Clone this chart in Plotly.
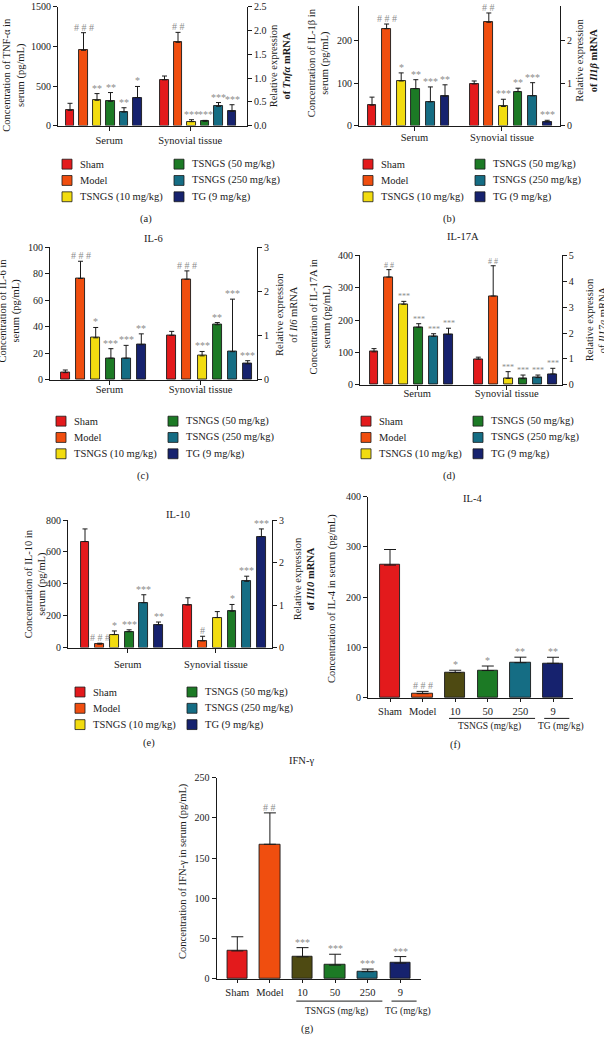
import plotly.graph_objects as go

W, H = 604, 1041
FONT = "Liberation Serif"
INK = "#1a1a1a"
SIG_COLOR = "#8c8c8c"

# ---------------- data ----------------
groups = ["Sham", "Model", "TSNGS (10 mg/kg)", "TSNGS (50 mg/kg)", "TSNGS (250 mg/kg)", "TG (9 mg/kg)"]
colors = ["#e31a1c", "#f04e0f", "#f2dc10", "#1c7a25", "#156d84", "#16226e"]
colors_single = ["#e31a1c", "#f04e0f", "#4e4a12", "#1c7a25", "#156d84", "#16226e"]
tissues = ["Serum", "Synovial tissue"]
single_ticks = ["Sham", "Model", "10", "50", "250", "9"]
bracket_labels = ["TSNGS (mg/kg)", "TG (mg/kg)"]

# (a) TNF-alpha
tnf_serum = [192, 952, 320, 307, 171, 354]
tnf_serum_err = [90, 223, 85, 111, 55, 141]
tnf_serum_sig = ["", "###", "**", "**", "**", "*"]
tnf_syn = [0.965, 1.755, 0.084, 0.09, 0.406, 0.30]
tnf_syn_err = [0.08, 0.21, 0.04, 0.02, 0.08, 0.14]
tnf_syn_sig = ["", "##", "***", "***", "***", "***"]

# (b) IL-1beta
il1b_serum = [48, 228, 105, 87, 56, 69]
il1b_serum_err = [19, 11, 19, 21, 35, 27]
il1b_serum_sig = ["", "###", "*", "**", "***", "**"]
il1b_syn = [0.98, 2.43, 0.45, 0.80, 0.70, 0.085]
il1b_syn_err = [0.07, 0.22, 0.17, 0.08, 0.31, 0.04]
il1b_syn_sig = ["", "##", "***", "**", "***", "***"]

# (c) IL-6
il6_serum = [5.5, 76.6, 31.8, 16.4, 16.4, 26.6]
il6_serum_err = [2, 13, 7.8, 7.2, 9.7, 8.2]
il6_serum_sig = ["", "###", "*", "***", "***", "**"]
il6_syn = [1.01, 2.28, 0.545, 1.25, 0.64, 0.366]
il6_syn_err = [0.09, 0.19, 0.10, 0.05, 1.19, 0.07]
il6_syn_sig = ["", "###", "***", "**", "***", "***"]

# (d) IL-17A
il17_serum = [102, 333, 249, 178, 150, 156]
il17_serum_err = [10, 23, 9, 11, 8, 19]
il17_serum_sig = ["", "##", "***", "***", "***", "***"]
il17_syn = [0.99, 3.43, 0.25, 0.24, 0.28, 0.42]
il17_syn_err = [0.08, 1.17, 0.26, 0.14, 0.10, 0.22]
il17_syn_sig = ["", "##", "***", "***", "***", "***"]

# (e) IL-10
il10_serum = [665, 21, 81, 99, 281, 143]
il10_serum_err = [79, 6, 23, 12, 50, 17]
il10_serum_sig = ["", "###", "*", "***", "***", "**"]
il10_syn = [1.0, 0.155, 0.705, 0.853, 1.558, 2.61]
il10_syn_err = [0.17, 0.11, 0.14, 0.16, 0.12, 0.18]
il10_syn_sig = ["", "#", "", "*", "***", "***"]

# (f) IL-4
il4 = [264, 8.5, 50.4, 54.4, 70, 68.8]
il4_err = [31, 4.5, 4.6, 9, 11, 12]
il4_sig = ["", "###", "*", "*", "**", "**"]

# (g) IFN-gamma
ifng = [34.8, 167.3, 27.4, 17.2, 9, 19.6]
ifng_err = [17.6, 39, 11.5, 13.5, 3.3, 8.2]
ifng_sig = ["", "##", "***", "***", "***", "***"]

# ---------------- helpers ----------------
fig = go.Figure()
layout = {}
annotations = []
shapes = []


def fx(px):
    return px / W


def fy(py):
    return 1 - py / H


def ref(prefix, n):
    return prefix + ("" if n == 1 else str(n))


def key(prefix, n):
    return prefix + "axis" + ("" if n == 1 else str(n))


def spaced(s):
    return " ".join(s) if "#" in s else s


def axis_style(size=10):
    return dict(showline=True, linecolor=INK, linewidth=1, ticks="outside", ticklen=4,
                tickwidth=1, tickcolor=INK, showgrid=False, zeroline=False,
                tickfont=dict(family=FONT, size=size, color=INK), fixedrange=True)


def text(x, y, s, size=10.5, angle=0, xanchor="center", color=INK, xref="paper", yref="paper"):
    annotations.append(dict(x=x, y=y, xref=xref, yref=yref, text=s, showarrow=False,
                            xanchor=xanchor, yanchor="middle", textangle=angle,
                            font=dict(family=FONT, size=size, color=color)))


def add_bars(xa, ya, xs, vals, errs, sigs, cols, width, capw, sigsize):
    fig.add_trace(go.Bar(
        x=xs, y=vals, width=width, xaxis=xa, yaxis=ya,
        marker=dict(color=cols, line=dict(color=INK, width=0.9)),
        error_y=dict(type="data", symmetric=False, array=errs, arrayminus=[0] * len(vals),
                     color=INK, thickness=1, width=capw),
        showlegend=False, hoverinfo="skip"))
    for x, v, e, s in zip(xs, vals, errs, sigs):
        if s:
            annotations.append(dict(x=x, y=v + e, xref=xa, yref=ya, text=spaced(s),
                                    showarrow=False, yanchor="bottom", yshift=-2,
                                    font=dict(family=FONT, size=sigsize, color=SIG_COLOR)))


def legend_block(x, y):
    for i, (g, c) in enumerate(zip(groups, colors)):
        col, row = divmod(i, 3)
        sx = x + col * 112
        sy = y + row * 16.5
        shapes.append(dict(type="rect", xref="paper", yref="paper",
                           x0=fx(sx), x1=fx(sx + 10), y0=fy(sy + 5), y1=fy(sy - 5),
                           fillcolor=c, line=dict(color=INK, width=0.8)))
        text(fx(sx + 16), fy(sy), g, size=10.5, xanchor="left")


n = len(groups)
serum_x = list(range(n))
syn_x = [n + 1 + i for i in range(n)]
group_ticks = [2.9, 8.9]


def twin_panel(ix, iyl, iyr, box, yl_range, yl_dtick, yr_range, yr_dtick, yr_fmt,
               serum, syn, sigsize, standoff, capw=2.5, width=0.6):
    xl, xr, yt, yb, x0, dx = box
    xa, yla, yra = ref("x", ix), ref("y", iyl), ref("y", iyr)
    xs = axis_style(10.5)
    xs.update(domain=[fx(xl), fx(xr)], range=[(xl - x0) / dx, (xr - x0) / dx], anchor=yla,
              tickvals=group_ticks, ticktext=tissues, ticklabelstandoff=standoff)
    layout[key("x", ix)] = xs
    yl = axis_style()
    yl.update(domain=[fy(yb), fy(yt)], range=yl_range, dtick=yl_dtick, anchor=xa)
    layout[key("y", iyl)] = yl
    yr = axis_style()
    yr.update(overlaying=yla, side="right", anchor=xa, range=yr_range, dtick=yr_dtick,
              tickformat=yr_fmt)
    layout[key("y", iyr)] = yr
    add_bars(xa, yla, serum_x, *serum, colors, width, capw, sigsize)
    add_bars(xa, yra, syn_x, *syn, colors, width, capw, sigsize)


def single_panel(ix, iy, box, y_range, y_dtick, vals, errs, sigs, under_off, sub_off):
    xl, xr, yt, yb, x0, dx = box
    xa, ya = ref("x", ix), ref("y", iy)
    xs = axis_style(10.5)
    xs.update(domain=[fx(xl), fx(xr)], range=[(xl - x0) / dx, (xr - x0) / dx], anchor=ya,
              tickvals=list(range(n)), ticktext=single_ticks, ticklen=3, ticklabelstandoff=0)
    layout[key("x", ix)] = xs
    yl = axis_style()
    yl.update(domain=[fy(yb), fy(yt)], range=y_range, dtick=y_dtick, anchor=xa)
    layout[key("y", iy)] = yl
    add_bars(xa, ya, list(range(n)), vals, errs, sigs, colors_single, 0.62, 6, 10)
    # group brackets under the tick labels
    for (a, b) in [(2 - 0.19, 4 + 0.45), (5 - 0.27, 5 + 0.5)]:
        shapes.append(dict(type="line", xref=xa, yref="paper", x0=a, x1=b,
                           y0=fy(yb + under_off), y1=fy(yb + under_off),
                           line=dict(color=INK, width=1)))
    for lab, xc in zip(bracket_labels, [3.05, 5.25]):
        text(xc, fy(yb + sub_off), lab, size=9.5, xref=xa)


# ---------------- panels ----------------
# (a) TNF-alpha
twin_panel(1, 1, 2, (58, 247, 1, 121, 70, 13.5), [0, 1500], 500, [0, 2.5], 0.5, ".1f",
           (tnf_serum, tnf_serum_err, tnf_serum_sig), (tnf_syn, tnf_syn_err, tnf_syn_sig), 10, 1)
text(fx(14.5), fy(70), "Concentration of TNF-α in<br>serum (pg/mL)", angle=-90)
text(fx(280), fy(61), "Relative expression<br><b>of <i>Tnfα</i> mRNA</b>", angle=-90)
legend_block(62, 160)
text(fx(146), fy(215), "(a)")

# (b) IL-1beta
twin_panel(2, 3, 4, (359, 560, 0, 121, 372, 14.6), [0, 281.4], 100, [0, 2.814], 1, "d",
           (il1b_serum, il1b_serum_err, il1b_serum_sig), (il1b_syn, il1b_syn_err, il1b_syn_sig), 10, -2)
text(fx(319), fy(58), "Concentration of IL-1β in<br>serum (pg/mL)", angle=-90)
text(fx(586.5), fy(55), "Relative expression<br><b>of <i>Il1β</i> mRNA</b>", angle=-90)
legend_block(363, 160)
text(fx(449), fy(215), "(b)")

# (c) IL-6
twin_panel(3, 5, 6, (50, 257, 244.3, 378.3, 65.3, 15.2), [0, 100], 20, [0, 3], 1, "d",
           (il6_serum, il6_serum_err, il6_serum_sig), (il6_syn, il6_syn_err, il6_syn_sig), 10, -5)
text(fx(153), fy(235), "IL-6")
text(fx(10), fy(308), "Concentration of IL-6 in<br>serum (pg/mL)", angle=-90)
text(fx(286.5), fy(312), "Relative expression<br>of <i>Il6</i> mRNA", angle=-90)
legend_block(56, 420)
text(fx(143), fy(475), "(c)")

# (d) IL-17A
twin_panel(4, 7, 8, (360, 561.7, 252.3, 383.3, 374, 14.9), [0, 400], 100, [0, 5], 1, "d",
           (il17_serum, il17_serum_err, il17_serum_sig), (il17_syn, il17_syn_err, il17_syn_sig), 8, -5)
text(fx(463), fy(233), "IL-17A")
text(fx(321), fy(314), "Concentration of IL-17A in<br>serum (pg/mL)", angle=-90)
text(fx(596), fy(318), "Relative expression<br>of <i>Il17a</i> mRNA", angle=-90)
legend_block(361, 420)
text(fx(449), fy(475), "(d)")

# (e) IL-10
twin_panel(5, 9, 10, (68, 272, 520, 649, 85, 14.7), [0, 800], 200, [0, 3], 1, "d",
           (il10_serum, il10_serum_err, il10_serum_sig), (il10_syn, il10_syn_err, il10_syn_sig), 10, 3)
text(fx(178), fy(514), "IL-10")
text(fx(36), fy(585), "Concentration of IL-10 in<br>serum (pg/mL)", angle=-90)
text(fx(304), fy(580), "Relative expression<br><b>of <i>Il10</i> mRNA</b>", angle=-90)
legend_block(75, 694)
text(fx(149), fy(746), "(e)")

# (f) IL-4
single_panel(6, 11, (368, 573, 496.4, 700, 390, 32.6), [0, 400], 100,
             il4, il4_err, il4_sig, 20.7, 29)
text(fx(473), fy(498), "IL-4")
text(fx(332), fy(600), "Concentration of IL-4 in serum (pg/mL)", angle=-90)
text(fx(455), fy(748), "(f)")

# (g) IFN-gamma
single_panel(7, 12, (216.5, 420.7, 780.7, 984.3, 237.3, 32.6), [0, 250], 50,
             ifng, ifng_err, ifng_sig, 22.4, 32.7)
text(fx(301), fy(763), "IFN-γ")
text(fx(183), fy(875), "Concentration of IFN-γ in serum (pg/mL)", angle=-90)
text(fx(307), fy(1035), "(g)")

fig.update_layout(
    width=W, height=H, margin=dict(l=0, r=0, t=0, b=0), autosize=False,
    paper_bgcolor="white", plot_bgcolor="white", showlegend=False,
    font=dict(family=FONT, size=10, color=INK), bargap=0,
    annotations=annotations, shapes=shapes, **layout)

fig.write_html("out.html", config={"displayModeBar": False},
               post_script="document.body.style.margin='0';")
